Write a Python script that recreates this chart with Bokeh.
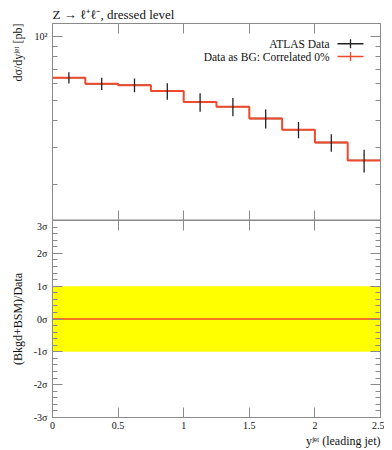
import math
from bokeh.plotting import figure
from bokeh.models import FixedTicker, LinearAxis, Range1d, Label, Title, CustomLabelingPolicy
from bokeh.layouts import column
from bokeh.embed import file_html
from bokeh.resources import INLINE

# ---------------- data ----------------
bin_edges = [0.0, 0.25, 0.5, 0.75, 1.0, 1.25, 1.5, 1.75, 2.0, 2.25, 2.5]
data_vals = [63.9, 59.8, 58.9, 55.2, 49.0, 46.6, 41.0, 36.3, 31.6, 26.0]
data_errs = [3.9, 4.0, 4.4, 4.9, 4.9, 4.6, 4.2, 3.2, 3.0, 3.2]
mc_vals = [63.9, 59.8, 58.9, 55.2, 49.0, 46.6, 41.0, 36.3, 31.6, 26.0]
ratio_vals = [0, 0, 0, 0, 0, 0, 0, 0, 0, 0]
band_lower = [-1, -1, -1, -1, -1, -1, -1, -1, -1, -1, -1]
band_upper = [1, 1, 1, 1, 1, 1, 1, 1, 1, 1, 1]

x_ticks = [0, 0.5, 1, 1.5, 2, 2.5]
x_tick_labels = ["0", "0.5", "1", "1.5", "2", "2.5"]
y_ticks_upper = [100]
y_tick_labels_upper = ["10\u00b2"]
y_minor_upper = [20, 30, 40, 50, 60, 70, 80, 90]
sig_ticks = [-3, -2, -1, 0, 1, 2, 3]
sig_labels = ["-3\u03c3", "-2\u03c3", "-1\u03c3", "0\u03c3", "1\u03c3", "2\u03c3", "3\u03c3"]
sig_minor = [i / 5 for i in range(-15, 16)]

title_text = "Z \u2192 \u2113\u207a\u2113\u207b, dressed level"
ylabel_upper = "d\u03c3/dy\u02b2\u1d49\u1d57 [pb]"
ylabel_lower = "(Bkgd+BSM)/Data"
xlabel_text = "y\u02b2\u1d49\u1d57 (leading jet)"
legend_labels = ["ATLAS Data", "Data as BG: Correlated 0%"]

# ---------------- style ----------------
FONT = "Liberation Serif"
RED = "#F04A2C"
GRAY = "#8a8a8a"
BLACK = "#222222"
TXT = "#111111"

y_lo_upper, y_hi_upper = 13.55, 115.0
centers = [(a + b) / 2 for a, b in zip(bin_edges[:-1], bin_edges[1:])]

NO_LABELS = "for (const i of indices) { indices.unset(i) }\nreturn indices"


def style_axis(ax, show_labels=True, ticker=None, line=True):
    ax.axis_line_color = GRAY if line else None
    ax.axis_line_width = 1
    ax.major_tick_line_color = GRAY
    ax.minor_tick_line_color = GRAY
    ax.major_tick_in = 10
    ax.major_tick_out = 0
    ax.minor_tick_in = 5
    ax.minor_tick_out = 0
    if ticker is not None:
        ax.ticker = ticker
    ax.major_label_text_font = FONT
    ax.major_label_text_color = TXT
    if show_labels:
        ax.major_label_text_font_size = "10px"
        ax.major_label_standoff = 5
    else:
        ax.major_label_text_font_size = "0px"
        ax.major_label_standoff = 0
        ax.major_label_policy = CustomLabelingPolicy(code=NO_LABELS)
    ax.axis_label = None


def xticker():
    return FixedTicker(ticks=x_ticks, minor_ticks=[])


def upper_yticker():
    return FixedTicker(ticks=y_ticks_upper, minor_ticks=y_minor_upper)


def sig_ticker():
    return FixedTicker(ticks=sig_ticks, minor_ticks=sig_minor)


def side_title(text, align, standoff):
    t = Title(text=text, align=align, text_font=FONT, text_font_size="12px",
              text_font_style="normal", text_color=TXT, standoff=standoff)
    return t


# ---------------- upper panel ----------------
p1 = figure(width=384, height=220, x_range=Range1d(bin_edges[0], bin_edges[-1]),
            y_range=Range1d(y_lo_upper, y_hi_upper), y_axis_type="log",
            output_backend="svg", toolbar_location=None,
            min_border_left=52, min_border_right=4, min_border_top=23, min_border_bottom=0)
p1.grid.visible = False
p1.outline_line_color = None
p1.title.text = title_text
p1.title.align = "left"
p1.title.text_font = FONT
p1.title.text_font_size = "13px"
p1.title.text_font_style = "normal"
p1.title.text_color = TXT
p1.title.standoff = 4
style_axis(p1.xaxis[0], show_labels=False, ticker=xticker())
p1.xaxis[0].axis_line_width = 2
style_axis(p1.yaxis[0], show_labels=True, ticker=upper_yticker())
p1.yaxis[0].major_label_overrides = dict(zip(y_ticks_upper, y_tick_labels_upper))
top_ax = LinearAxis()
style_axis(top_ax, show_labels=False, ticker=xticker())
p1.add_layout(top_ax, "above")
right_ax1 = LinearAxis()
style_axis(right_ax1, show_labels=False, ticker=upper_yticker())
p1.add_layout(right_ax1, "right")
p1.add_layout(side_title(ylabel_upper, "right", 14), "left")

p1.segment(x0=bin_edges[:-1], x1=bin_edges[1:], y0=data_vals, y1=data_vals,
           line_color=BLACK, line_width=1.3)
p1.step(x=bin_edges, y=mc_vals + [mc_vals[-1]], mode="after", line_color=RED, line_width=2)
p1.segment(x0=centers, x1=centers,
           y0=[v - e for v, e in zip(data_vals, data_errs)],
           y1=[v + e for v, e in zip(data_vals, data_errs)],
           line_color=BLACK, line_width=1.3)

# annotation placement helpers (frame: 328 x 197 px)
FR_H, FR_W = 197.0, 328.0
dec_px = FR_H / (math.log10(y_hi_upper) - math.log10(y_lo_upper))


def ux(px_from_left):
    return bin_edges[0] + px_from_left / FR_W * (bin_edges[-1] - bin_edges[0])


def uy(px_from_top):
    return 10 ** (math.log10(y_hi_upper) - px_from_top / dec_px)


# legend (label left, sample right)
leg_rows = [20.3, 33.0]
leg_colors = [BLACK, RED]
for lab, row, col in zip(legend_labels, leg_rows, leg_colors):
    p1.add_layout(Label(x=ux(277), y=uy(row), text=lab, text_align="right",
                        text_baseline="middle", text_font=FONT, text_font_size="11.5px",
                        text_color=TXT))
    p1.segment(x0=[ux(285)], x1=[ux(311)], y0=[uy(row)], y1=[uy(row)],
               line_color=col, line_width=1.5)
    p1.segment(x0=[ux(298)], x1=[ux(298)], y0=[uy(row + 4.5)], y1=[uy(row - 4.5)],
               line_color=col, line_width=1.3)

# ---------------- lower panel ----------------
p2 = figure(width=384, height=228, x_range=p1.x_range, y_range=Range1d(-3, 3),
            output_backend="svg", toolbar_location=None,
            min_border_left=52, min_border_right=4, min_border_top=0, min_border_bottom=31)
p2.grid.visible = False
p2.outline_line_color = None
style_axis(p2.xaxis[0], show_labels=True, ticker=xticker())
p2.xaxis[0].major_label_overrides = dict(zip(x_ticks, x_tick_labels))
p2.xaxis[0].major_label_standoff = 4
style_axis(p2.yaxis[0], show_labels=True, ticker=sig_ticker())
p2.yaxis[0].major_label_overrides = dict(zip(sig_ticks, sig_labels))
top_ax2 = LinearAxis()
style_axis(top_ax2, show_labels=False, ticker=xticker())
p2.add_layout(top_ax2, "above")
right_ax2 = LinearAxis()
style_axis(right_ax2, show_labels=False, ticker=sig_ticker())
p2.add_layout(right_ax2, "right")
p2.add_layout(side_title(ylabel_lower, "center", 11), "left")
p2.add_layout(side_title(xlabel_text, "right", 0), "below")

p2.varea(x=bin_edges, y1=band_lower, y2=band_upper, fill_color="#ffff00", fill_alpha=1)
p2.step(x=bin_edges, y=ratio_vals + [ratio_vals[-1]], mode="after", line_color=RED, line_width=1.6)

layout = column(p1, p2, spacing=0)
open("out.html", "w").write(file_html(layout, INLINE))
